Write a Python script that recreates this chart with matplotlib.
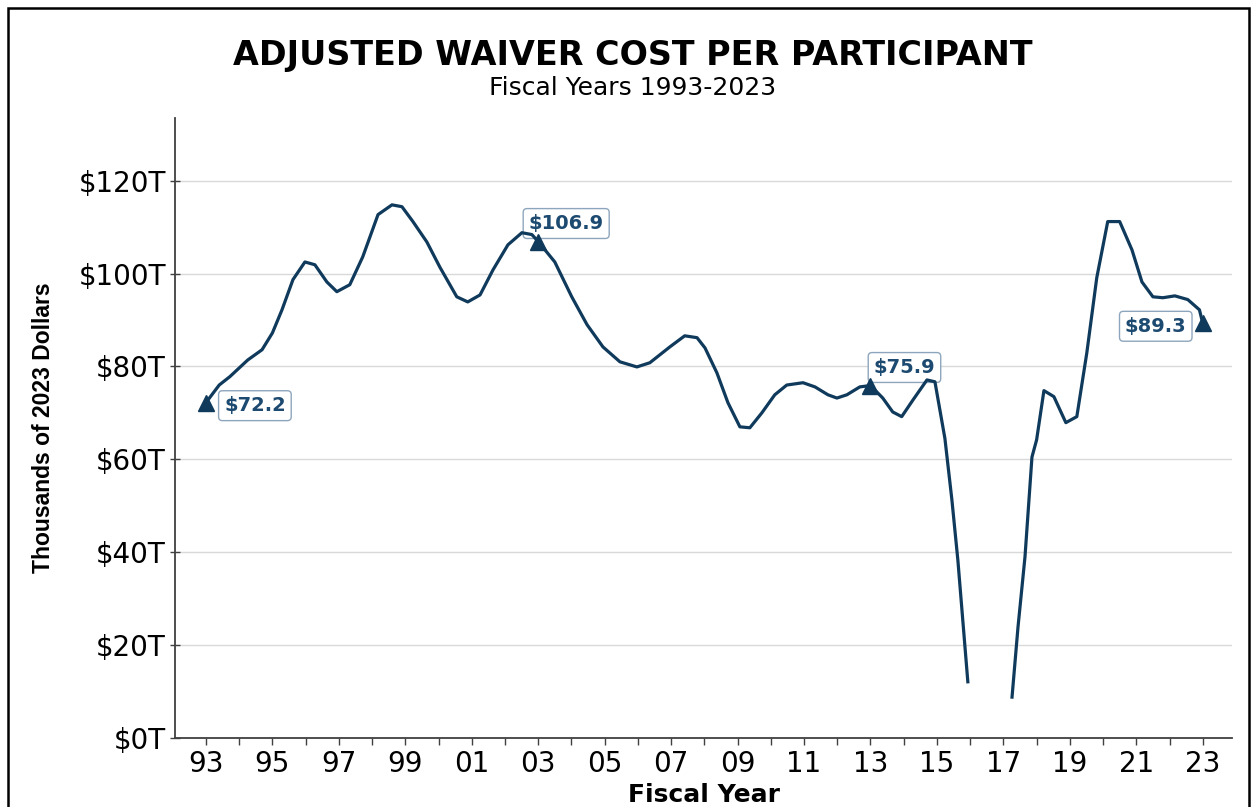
import matplotlib
matplotlib.use("Agg")
import matplotlib.pyplot as plt
import matplotlib.patches as patches
from matplotlib import font_manager
import numpy as np

# values (thousands of 2023 dollars)
fiscal_year = [
    1993.00, 1993.40, 1993.72, 1994.26, 1994.69, 1995.00, 1995.29, 1995.62, 1995.98,
    1996.28, 1996.64, 1996.94, 1997.33, 1997.72, 1998.18, 1998.60, 1998.90, 1999.23,
    1999.65, 2000.04, 2000.55, 2000.88, 2001.25, 2001.64, 2002.09, 2002.51, 2002.81,
    2003.00, 2003.50, 2004.01, 2004.47, 2004.95, 2005.46, 2005.97, 2006.36, 2006.96,
    2007.41, 2007.78, 2008.02, 2008.38, 2008.71, 2009.07, 2009.37, 2009.73, 2010.12,
    2010.48, 2010.97, 2011.33, 2011.72, 2011.99, 2012.29, 2012.68, 2013.00, 2013.37,
    2013.67, 2013.94, 2014.28, 2014.70, 2014.94, 2015.24, 2015.45, 2015.63, 2015.93,
    2016.60,
    2017.26, 2017.44, 2017.65, 2017.86, 2018.00, 2018.22, 2018.52, 2018.88, 2019.21,
    2019.51, 2019.81, 2020.14, 2020.50, 2020.87, 2021.17, 2021.50, 2021.80, 2022.16,
    2022.55, 2022.90, 2023.00,
]
cost_per_participant = [
    72.2, 76.0, 77.8, 81.4, 83.6, 87.2, 92.2, 98.7, 102.5,
    101.9, 98.2, 96.1, 97.6, 103.6, 112.7, 114.8, 114.4, 111.2,
    106.8, 101.4, 95.0, 93.9, 95.4, 100.8, 106.2, 108.8, 108.4,
    106.9, 102.5, 95.0, 89.0, 84.2, 81.0, 79.9, 80.8, 84.2,
    86.6, 86.2, 84.0, 78.6, 72.2, 67.0, 66.8, 70.0, 73.9,
    76.0, 76.5, 75.6, 73.9, 73.2, 73.9, 75.6, 75.9, 73.2,
    70.2, 69.2, 72.8, 77.1, 76.7, 64.5, 51.3, 38.3, 12.1,
    np.nan,
    8.8, 23.9, 39.0, 60.5, 64.2, 74.8, 73.5, 67.9, 69.2,
    82.9, 99.1, 111.2, 111.2, 105.1, 98.2, 95.0, 94.8, 95.2,
    94.4, 92.2, 89.3,
]

label_years = [1993, 2003, 2013, 2023]
label_values = [72.2, 106.9, 75.9, 89.3]
label_offsets = [(49, -3), (28, 18), (34, 18), (-47, -3)]  # pixels

tick_years = list(range(1993, 2024, 2))
tick_labels = [f"{y % 100:02d}" for y in tick_years]
y_ticks = [0, 20, 40, 60, 80, 100, 120]

navy = "#0f3a5c"
text_navy = "#1d4a70"

# narrow font for the rotated axis label, if there is one
try:
    font_manager.findfont(font_manager.FontProperties(family="Liberation Sans Narrow"),
                          fallback_to_default=False)
    ylab_font = dict(family="Liberation Sans Narrow", size=20)
except Exception:
    ylab_font = dict(family="Liberation Sans", size=16.5)

fig = plt.figure(figsize=(12.57, 8.07), dpi=100)
ax = fig.add_axes([175 / 1257, 1 - 738 / 807, (1232 - 175) / 1257, (738 - 118) / 807])

ax.plot(fiscal_year, cost_per_participant, color=navy, lw=2.3, solid_joinstyle="round",
        zorder=4)

for yr, val, off in zip(label_years, label_values, label_offsets):
    ax.plot(yr, val, marker="^", ms=12, color=navy, zorder=5)
    ax.annotate(f"${val:.1f}", xy=(yr, val), xytext=off, textcoords="offset pixels",
                ha="center", va="center", fontsize=14, fontweight="bold", color=text_navy,
                bbox=dict(boxstyle="round,pad=0.28,rounding_size=0.2", fc="white",
                          ec="#8ea6bd", lw=1), zorder=3)

ax.set_xlim(1992.07, 2023.88)
ax.set_ylim(0, 133.5)
ax.set_xticks(tick_years)
ax.set_xticklabels(tick_labels)
ax.set_xticks(range(1993, 2024), minor=True)
ax.set_yticks(y_ticks)
ax.set_yticklabels([f"${v}T" for v in y_ticks])
ax.tick_params(axis="both", which="both", width=1, color="#404040", labelsize=20)
ax.tick_params(axis="x", which="both", direction="out", length=5, pad=4)
ax.tick_params(axis="y", direction="inout", length=7, pad=3)

ax.grid(axis="y", color="#d9d9d9", lw=1)
ax.set_axisbelow(True)
for side in ["top", "right"]:
    ax.spines[side].set_visible(False)
for side in ["left", "bottom"]:
    ax.spines[side].set_color("#404040")
    ax.spines[side].set_linewidth(1.3)

ax.set_xlabel("Fiscal Year", fontsize=18, fontweight="bold", labelpad=3)
ax.set_ylabel("Thousands of 2023 Dollars", fontweight="bold", labelpad=17, **ylab_font)

fig.text(0.503, 1 - 55 / 807, "ADJUSTED WAIVER COST PER PARTICIPANT", ha="center",
         va="center", fontsize=24, fontweight="bold", color="black")
fig.text(0.503, 1 - 88 / 807, "Fiscal Years 1993-2023", ha="center", va="center",
         fontsize=18, color="black")

# outer frame of the exhibit
fig.patches.append(patches.Rectangle((8 / 1257, -0.05), (1249 - 8) / 1257, 1.05 - 8 / 807,
                                     transform=fig.transFigure, fill=False, ec="black",
                                     lw=1.8, clip_on=False))

fig.savefig("out.png", dpi=100)
